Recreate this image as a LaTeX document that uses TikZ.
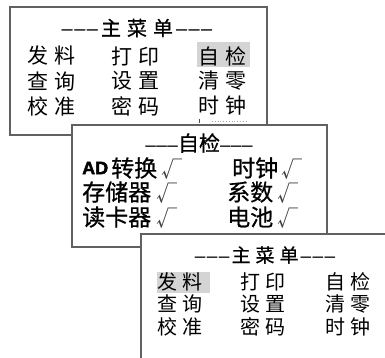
\documentclass[tikz,border=0pt]{standalone}
\usepackage{fontspec}
\setmainfont{Noto Sans CJK SC}
\newfontfamily\cjkb[FakeBold=0.7]{Noto Sans CJK SC}
\newfontfamily\cjkt[FakeBold=0.6]{Noto Sans CJK SC}
\newfontfamily\adfont[FakeBold=2]{Liberation Sans}
\newfontfamily\dashfont{Liberation Sans}
\newcommand\twoch[2]{#1\kern6pt#2}
\newcommand\twochs[2]{#1\kern5pt#2}
\newcommand\dsh{{\dashfont –\kern1.5pt–\kern1.5pt–}}
\tikzset{
  panel/.style={draw=black!62, line width=1.3pt, fill=white},
  hl/.style={fill=black!17},
  ma/.style={anchor=west, inner sep=0pt, font=\fontsize{21}{21}\selectfont},
  mc/.style={anchor=west, inner sep=0pt, font=\fontsize{20}{20}\selectfont},
  mb/.style={anchor=west, inner sep=0pt, font=\cjkb\fontsize{23}{23}\selectfont},
  ck/.style={anchor=west, inner sep=0pt, text=black!75, font=\fontsize{21}{21}\selectfont},
  ttl/.style={inner sep=0pt},
}
\begin{document}
\begin{tikzpicture}[x=1pt,y=-1pt]
\useasboundingbox (0,0) rectangle (385,357);
\clip (0,0) rectangle (385,357);
% ---- panel 1
\draw[panel] (10,7) rectangle (267,135);
\fill[hl] (197,42) rectangle (250,67);
\node[ttl, font=\cjkt\fontsize{20}{20}\selectfont] (t1) at (137,28) {\dsh\kern3pt主\kern6pt菜\kern6pt单\kern3pt\dsh};
\node[ma] (a11) at (27,56) {\twoch{发}{料}};
\node[ma] (a12) at (111,56) {\twoch{打}{印}};
\node[ma] (a13) at (198,56) {\twoch{自}{检}};
\node[ma] (a21) at (27,81) {\twoch{查}{询}};
\node[ma] (a22) at (111,81) {\twoch{设}{置}};
\node[ma] (a23) at (198,81) {\twoch{清}{零}};
\node[ma] (a31) at (27,106) {\twoch{校}{准}};
\node[ma] (a32) at (111,106) {\twoch{密}{码}};
\node[ma] (a33) at (198,106) {\twoch{时}{钟}};
\draw[black!70, line width=0.8pt] (199,119) -- (199,123);
\draw[black!35, line width=0.8pt, dotted] (212,121) -- (248,121);
% ---- panel 2
\draw[panel] (72,125) rectangle (327,247);
\node[ttl, font=\cjkb\fontsize{21}{21}\selectfont] (t2) at (199,143) {{\dashfont\fontsize{19}{19}\selectfont –\kern0.5pt–\kern0.5pt–}自检{\dashfont\fontsize{19}{19}\selectfont –\kern0.5pt–\kern0.5pt–}};
\node[anchor=west, inner sep=0pt, font=\adfont\bfseries\fontsize{18}{18}\selectfont] (ad) at (82,168) {AD};
\node[mb] (b11) at (111,168) {转换};
\node[ck] (c11) at (161,169) {√};
\node[mb] (b21) at (82,192) {存储器};
\node[ck] (c21) at (156,193) {√};
\node[mb] (b31) at (82,217) {读卡器};
\node[ck] (c31) at (156,218) {√};
\node[mb] (b12) at (232,168) {时钟};
\node[ck] (c12) at (281,169) {√};
\node[mb] (b22) at (227,192) {系数};
\node[ck] (c22) at (277,193) {√};
\node[mb] (b32) at (227,217) {电池};
\node[ck] (c32) at (277,218) {√};
% ---- panel 3
\draw[panel] (141,234) rectangle (400,370);
\fill[hl] (157,272) rectangle (210,293);
\node[ttl, font=\cjkt\fontsize{19}{19}\selectfont] (t3) at (265,255) {\dsh\kern2pt主\kern5pt菜\kern5pt单\kern2pt\dsh};
\node[mc] (d11) at (157,282) {\twochs{发}{料}};
\node[mc] (d12) at (240,282) {\twochs{打}{印}};
\node[mc] (d13) at (325,282) {\twochs{自}{检}};
\node[mc] (d21) at (157,304) {\twochs{查}{询}};
\node[mc] (d22) at (240,304) {\twochs{设}{置}};
\node[mc] (d23) at (325,304) {\twochs{清}{零}};
\node[mc] (d31) at (157,327) {\twochs{校}{准}};
\node[mc] (d32) at (240,327) {\twochs{密}{码}};
\node[mc] (d33) at (325,327) {\twochs{时}{钟}};
\end{tikzpicture}
\end{document}
